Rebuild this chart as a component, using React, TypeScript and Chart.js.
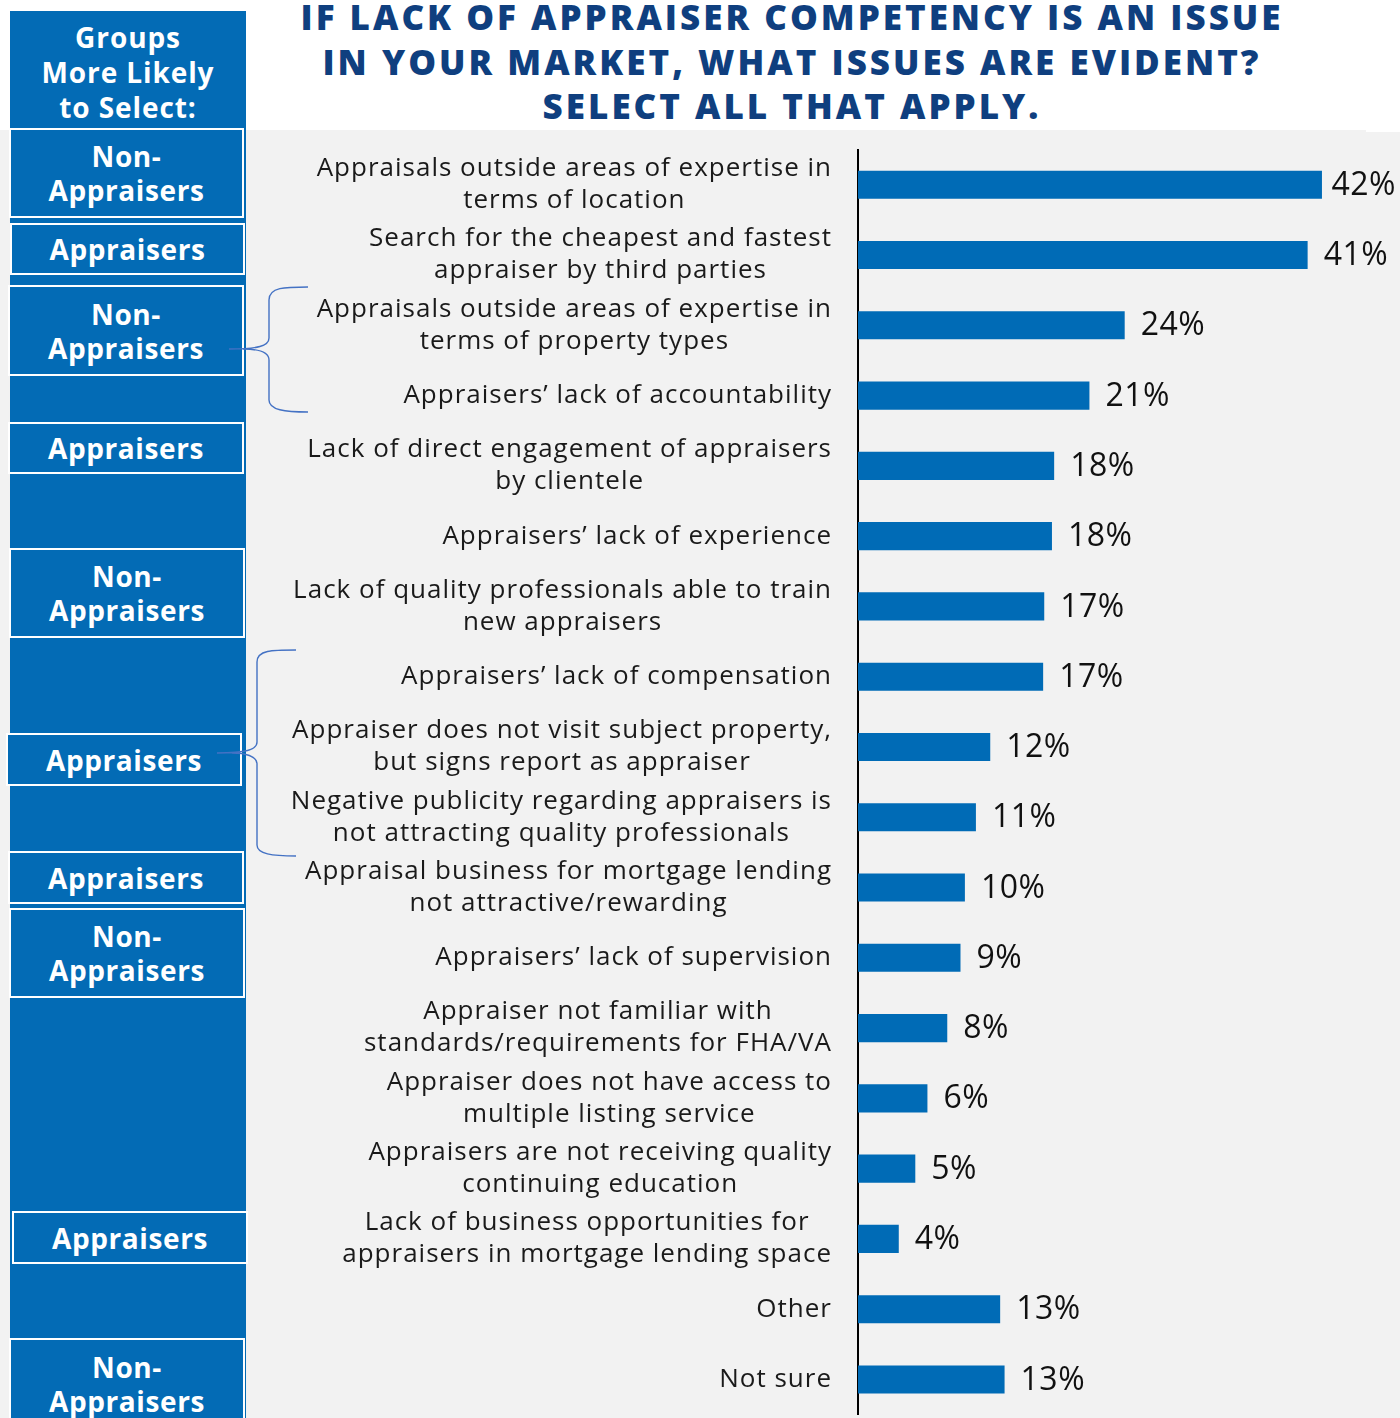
import React, { useEffect, useRef } from "react";
import { Chart, registerables } from "chart.js";

Chart.register(...registerables);

const categories: string[][] = [
  ["Appraisals outside areas of expertise in", "terms of location"],
  ["Search for the cheapest and fastest", "appraiser by third parties"],
  ["Appraisals outside areas of expertise in", "terms of property types"],
  ["Appraisers’ lack of accountability"],
  ["Lack of direct engagement of appraisers", "by clientele"],
  ["Appraisers’ lack of experience"],
  ["Lack of quality professionals able to train", "new appraisers"],
  ["Appraisers’ lack of compensation"],
  ["Appraiser does not visit subject property,", "but signs report as appraiser"],
  ["Negative publicity regarding appraisers is", "not attracting quality professionals"],
  ["Appraisal business for mortgage lending", "not attractive/rewarding"],
  ["Appraisers’ lack of supervision"],
  ["Appraiser not familiar with", "standards/requirements for FHA/VA"],
  ["Appraiser does not have access to", "multiple listing service"],
  ["Appraisers are not receiving quality", "continuing education"],
  ["Lack of business opportunities for", "appraisers in mortgage lending space"],
  ["Other"],
  ["Not sure"],
];

const values = [42.1, 40.8, 24.2, 21.0, 17.8, 17.6, 16.9, 16.8, 12.0, 10.7, 9.7, 9.3, 8.1, 6.3, 5.2, 3.7, 12.9, 13.3];
const valueLabels = ["42%", "41%", "24%", "21%", "18%", "18%", "17%", "17%", "12%", "11%", "10%", "9%", "8%", "6%", "5%", "4%", "13%", "13%"];

const titleLines = [
  "IF LACK OF APPRAISER COMPETENCY IS AN ISSUE",
  "IN YOUR MARKET, WHAT ISSUES ARE EVIDENT?",
  "SELECT ALL THAT APPLY.",
];

const headerLines = ["Groups", "More Likely", "to Select:"];

const groupBoxes = [
  { lines: ["Non-", "Appraisers"], left: 9, top: 128, right: 244, bottom: 218 },
  { lines: ["Appraisers"], left: 10, top: 223, right: 245, bottom: 275 },
  { lines: ["Non-", "Appraisers"], left: 8, top: 285, right: 244, bottom: 376 },
  { lines: ["Appraisers"], left: 8, top: 422, right: 244, bottom: 474 },
  { lines: ["Non-", "Appraisers"], left: 9, top: 548, right: 245, bottom: 638 },
  { lines: ["Appraisers"], left: 6, top: 733, right: 242, bottom: 786 },
  { lines: ["Appraisers"], left: 8, top: 851, right: 244, bottom: 904 },
  { lines: ["Non-", "Appraisers"], left: 9, top: 908, right: 245, bottom: 998 },
  { lines: ["Appraisers"], left: 12, top: 1211, right: 248, bottom: 1264 },
  { lines: ["Non-", "Appraisers"], left: 9, top: 1338, right: 245, bottom: 1430 },
];

const BAR_COLOR = "#006BB6";
const SIDE_COLOR = "#036BB5";
const TITLE_COLOR = "#0F3F7F";
const FONT = "'Open Sans', 'DejaVu Sans', sans-serif";

const CANVAS_LEFT = 248;
const CANVAS_TOP = 130;
const CANVAS_W = 1152;
const CANVAS_H = 1288;

export default function App() {
  const canvasRef = useRef<HTMLCanvasElement | null>(null);

  useEffect(() => {
    const canvas = canvasRef.current;
    if (!canvas) return;

    const labelPlugin = {
      id: "customLabels",
      afterDatasetsDraw(chart: any) {
        const ctx = chart.ctx;
        const yScale = chart.scales.y;
        const area = chart.chartArea;
        ctx.save();
        // category labels
        ctx.font = `400 26px ${FONT}`;
        (ctx as any).letterSpacing = "1px";
        ctx.fillStyle = "#1a1a1a";
        ctx.textBaseline = "middle";
        ctx.textAlign = "center";
        const rightEdge = area.left - 26;
        categories.forEach((lines, i) => {
          const y = yScale.getPixelForValue(i);
          const maxW = Math.max(...lines.map((l) => ctx.measureText(l).width));
          const cx = rightEdge - maxW / 2;
          lines.forEach((l, j) => {
            ctx.fillText(l, cx, y + (j - (lines.length - 1) / 2) * 32);
          });
        });
        // value labels
        (ctx as any).letterSpacing = "0.5px";
        ctx.font = `400 32px ${FONT}`;
        ctx.fillStyle = "#111";
        ctx.textAlign = "left";
        const meta = chart.getDatasetMeta(0);
        meta.data.forEach((bar: any, i: number) => {
          const txt = valueLabels[i];
          const w = ctx.measureText(txt).width;
          const x = Math.min(bar.x + 16, chart.width - w - 4);
          ctx.fillText(txt, x, bar.y + 1);
        });
        ctx.restore();
      },
    };

    const chart = new Chart(canvas, {
      type: "bar",
      data: {
        labels: categories.map((c) => c.join(" ")),
        datasets: [
          {
            data: values,
            backgroundColor: BAR_COLOR,
            borderWidth: 0,
            barPercentage: 0.8,
            categoryPercentage: 0.5,
          },
        ],
      },
      options: {
        indexAxis: "y",
        responsive: false,
        maintainAspectRatio: false,
        animation: false,
        layout: { padding: { left: 610, right: 2, top: 19.6, bottom: 3.4 } },
        plugins: { legend: { display: false }, tooltip: { enabled: false } },
        scales: {
          x: { display: false, min: 0, max: 49 },
          y: {
            ticks: { display: false },
            grid: { display: false, drawTicks: false },
            border: { display: true, color: "#000", width: 2 },
          },
        },
      },
      plugins: [labelPlugin],
    } as any);

    return () => chart.destroy();
  }, []);

  return (
    <div
      style={{
        position: "absolute",
        left: 0,
        top: 0,
        width: 1400,
        height: 1418,
        background: "#fff",
        overflow: "hidden",
        fontFamily: FONT,
      }}
    >
      <div style={{ position: "absolute", left: 0, top: 130, width: 1400, height: 1288, background: "#F2F2F2" }} />
      <div style={{ position: "absolute", left: 1366, top: 128, width: 34, height: 4, background: "#fff" }} />
      {titleLines.map((t, i) => (
        <div
          key={i}
          style={{
            position: "absolute",
            left: 248,
            width: 1088,
            top: 17 + i * 44.5 - 23,
            height: 46,
            lineHeight: "46px",
            textAlign: "center",
            whiteSpace: "nowrap",
            color: TITLE_COLOR,
            fontWeight: 800,
            fontSize: 35,
            letterSpacing: "3px",
          }}
        >
          {t}
        </div>
      ))}
      <canvas
        ref={canvasRef}
        width={CANVAS_W}
        height={CANVAS_H}
        style={{ position: "absolute", left: CANVAS_LEFT, top: CANVAS_TOP, width: CANVAS_W, height: CANVAS_H }}
      />
      {/* side column */}
      <div style={{ position: "absolute", left: 10, top: 11, width: 236, height: 1418 - 11, background: SIDE_COLOR }} />
      <div
        style={{
          position: "absolute",
          left: 10,
          top: 20,
          width: 236,
          textAlign: "center",
          color: "#fff",
          fontWeight: 700,
          fontSize: 28,
          letterSpacing: "0.9px",
          lineHeight: "35px",
        }}
      >
        {headerLines.map((l, i) => (
          <div key={i}>{l}</div>
        ))}
      </div>
      {groupBoxes.map((b, i) => (
        <div
          key={i}
          style={{
            position: "absolute",
            left: b.left,
            top: b.top,
            width: b.right - b.left,
            height: b.bottom - b.top,
            boxSizing: "border-box",
            border: "2px solid #fff",
            background: SIDE_COLOR,
            display: "flex",
            flexDirection: "column",
            justifyContent: "center",
            alignItems: "center",
            color: "#fff",
            fontWeight: 700,
            fontSize: 28,
            letterSpacing: "0.6px",
            lineHeight: "34px",
          }}
        >
          {b.lines.map((l, j) => (
            <div key={j}>{l}</div>
          ))}
        </div>
      ))}
      <svg
        width={1400}
        height={1418}
        style={{ position: "absolute", left: 0, top: 0, pointerEvents: "none" }}
      >
        <g fill="none" stroke="#4472C4" strokeWidth={1.4}>
          <path d="M308 287 C 285 287, 269 287, 269 300 L 269 338 C 269 346, 258 349, 229 349 M 243 349 C 258 349, 269 352, 269 360 L 269 400 C 269 410, 285 412, 308 412" />
          <path d="M296 650 C 272 650, 257 650, 257 662 L 257 742 C 257 750, 245 753, 217 753 M 232 753 C 245 753, 257 756, 257 764 L 257 845 C 257 854, 272 856, 296 856" />
        </g>
      </svg>
    </div>
  );
}
